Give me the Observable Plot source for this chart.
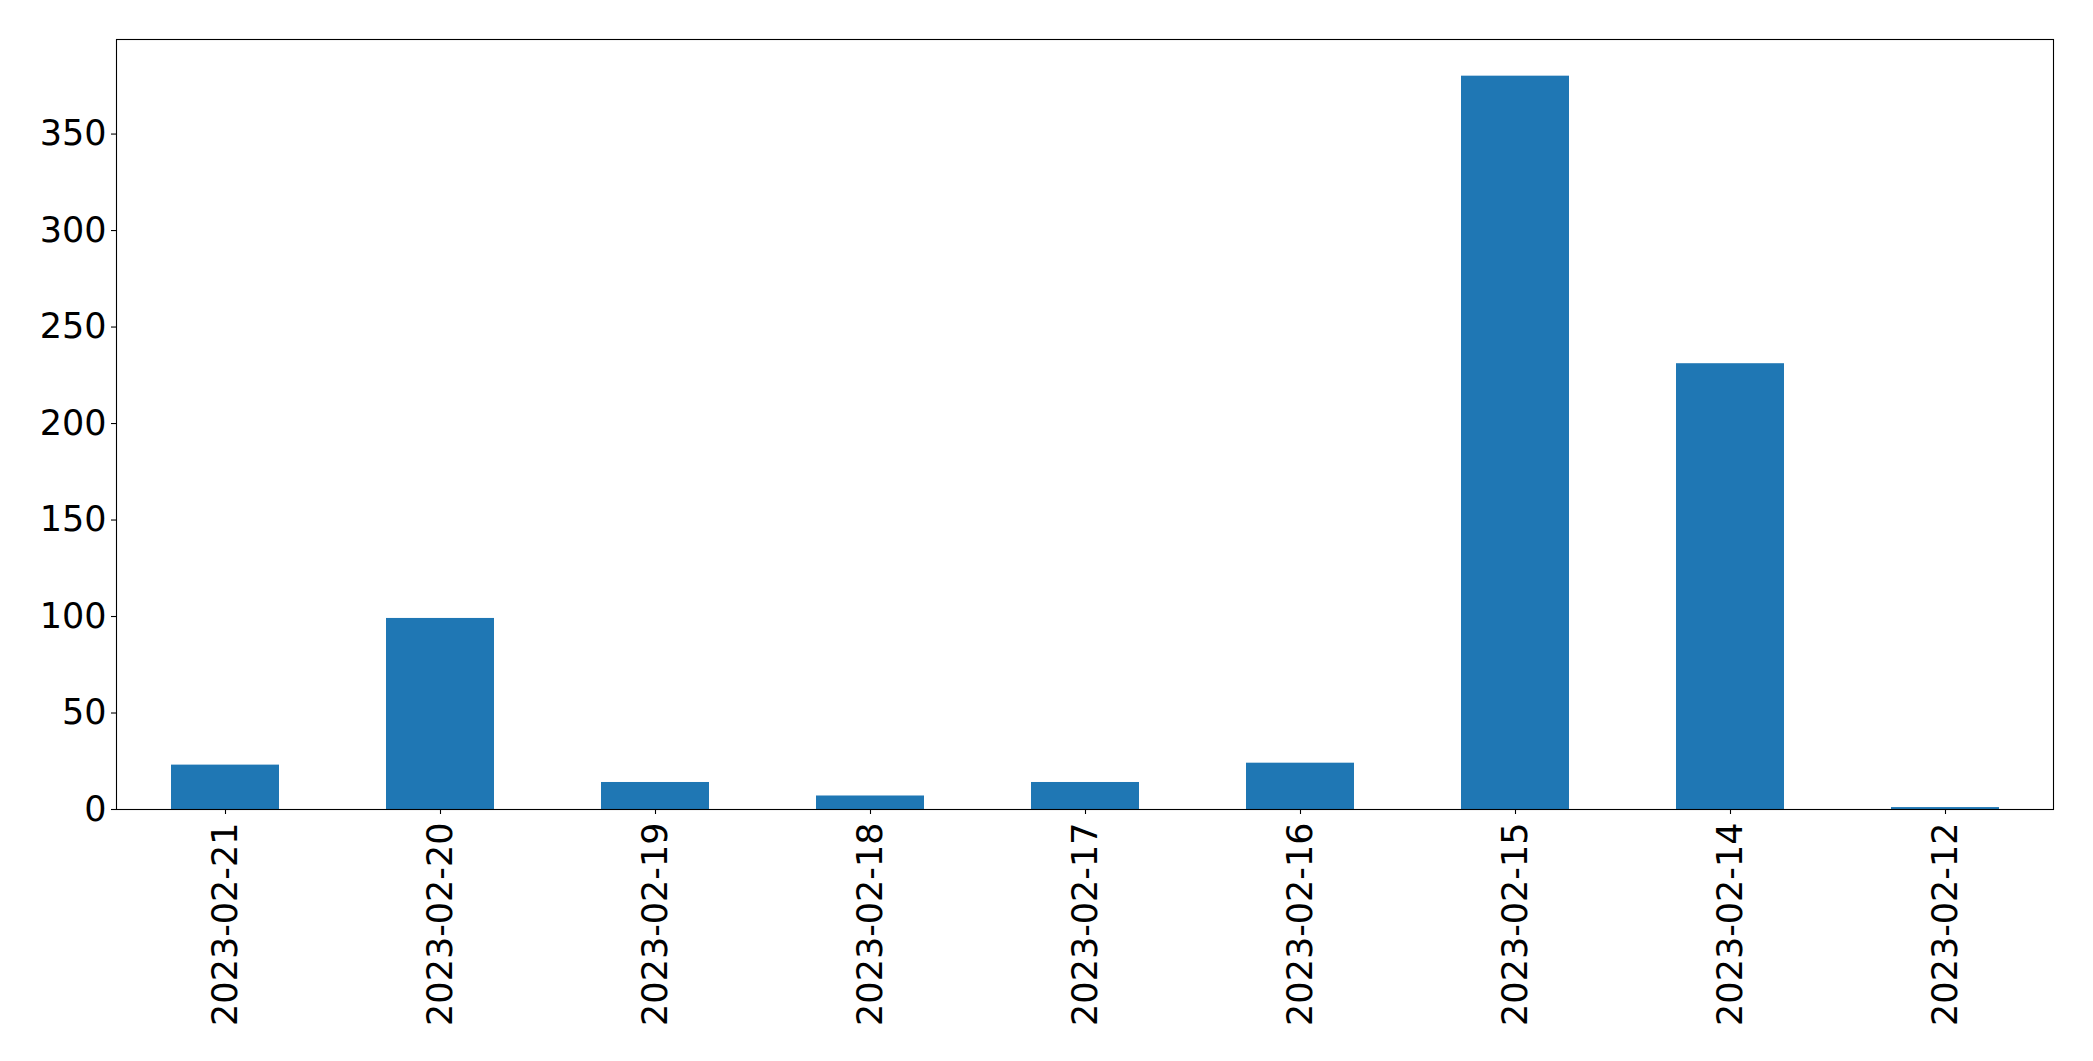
<!DOCTYPE html>
<html>
<head>
<meta charset="utf-8">
<script src="https://cdn.jsdelivr.net/npm/d3@7"></script>
<script src="https://cdn.jsdelivr.net/npm/@observablehq/plot@0.6"></script>
<style>
  html, body { margin: 0; padding: 0; background: #fff; }
  #chart svg { display: block; }
</style>
</head>
<body>
<div id="chart"></div>
<script>
const dates = ["2023-02-21", "2023-02-20", "2023-02-19", "2023-02-18", "2023-02-17", "2023-02-16", "2023-02-15", "2023-02-14", "2023-02-12"];
const counts = [23, 99, 14, 7, 14, 24, 380, 231, 1];
const yTicks = [0, 50, 100, 150, 200, 250, 300, 350];

const data = dates.map((d, i) => ({date: d, count: counts[i]}));

const chart = Plot.plot({
  width: 2093,
  height: 1061,
  marginLeft: 116,
  marginRight: 40,
  marginTop: 39,
  marginBottom: 252,
  style: {fontFamily: "'DejaVu Sans', sans-serif", fontSize: "35px", color: "#000", background: "#fff"},
  x: {domain: dates, paddingInner: 0.5, paddingOuter: 0.25, label: null},
  y: {domain: [0, 399], label: null},
  marks: [
    Plot.barY(data, {x: "date", y: "count", fill: "#1f77b4"}),
    Plot.frame({stroke: "#000", strokeWidth: 1.1}),
    Plot.axisY({ticks: yTicks, tickSize: 5, tickPadding: 5, fontSize: 35, label: null, strokeWidth: 1.1}),
    Plot.axisX({tickSize: 5, tickPadding: 8, tickRotate: -90, fontSize: 35, label: null, strokeWidth: 1.1})
  ]
});
document.getElementById("chart").appendChild(chart);
</script>
</body>
</html>
